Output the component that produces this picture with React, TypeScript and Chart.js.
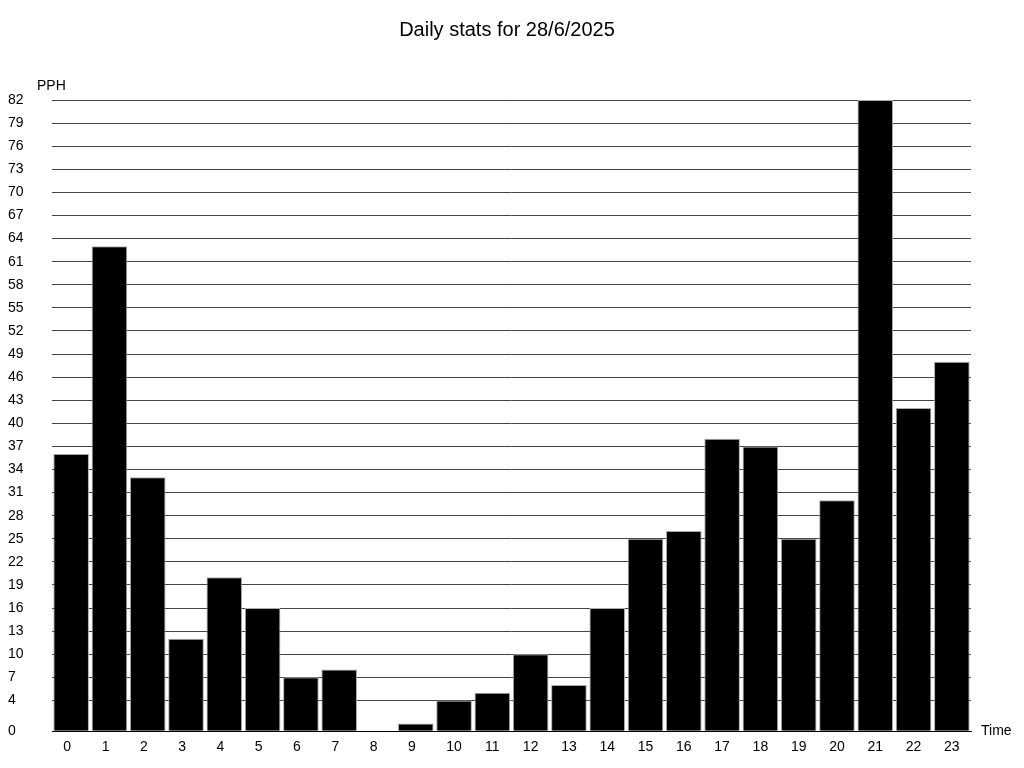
import React, { useEffect, useRef } from "react";
import { Chart, registerables } from "chart.js";

Chart.register(...registerables);

const hours: string[] = [
  "0", "1", "2", "3", "4", "5", "6", "7", "8", "9", "10", "11",
  "12", "13", "14", "15", "16", "17", "18", "19", "20", "21", "22", "23",
];
const pphValues: number[] = [
  36, 63, 33, 12, 20, 16, 7, 8, 0, 1, 4, 5,
  10, 6, 16, 25, 26, 38, 37, 25, 30, 82, 42, 48,
];
const yTickValues: number[] = [
  0, 4, 7, 10, 13, 16, 19, 22, 25, 28, 31, 34, 37, 40, 43, 46, 49, 52,
  55, 58, 61, 64, 67, 70, 73, 76, 79, 82,
];
const chartTitle = "Daily stats for 28/6/2025";
const yAxisLabel = "PPH";
const xAxisLabel = "Time";

const FONT = "'Liberation Sans', Arial, Helvetica, sans-serif";

const textPlugin = {
  id: "textLabels",
  afterDraw(chart: any) {
    const { ctx, chartArea, width } = chart;
    ctx.save();
    ctx.fillStyle = "#000";
    ctx.textBaseline = "middle";
    ctx.font = `20px ${FONT}`;
    ctx.textAlign = "center";
    ctx.fillText(chartTitle, width / 2 - 5, 22);
    ctx.font = `14px ${FONT}`;
    ctx.textAlign = "left";
    ctx.fillText(yAxisLabel, 29, chartArea.top - 14);
    ctx.fillText(xAxisLabel, chartArea.right + 10, chartArea.bottom);
    ctx.restore();
  },
};

export default function App() {
  const canvasRef = useRef<HTMLCanvasElement | null>(null);

  useEffect(() => {
    if (!canvasRef.current) return;
    const chart = new Chart(canvasRef.current, {
      type: "bar",
      data: {
        labels: hours,
        datasets: [
          {
            label: yAxisLabel,
            data: pphValues,
            backgroundColor: "#000",
            borderColor: "#aaa",
            borderWidth: 1,
            barPercentage: 0.93,
            categoryPercentage: 1,
          },
        ],
      },
      options: {
        animation: false,
        responsive: true,
        maintainAspectRatio: false,
        layout: { padding: { left: 0, right: 45, top: 92, bottom: 0 } },
        plugins: {
          legend: { display: false },
          tooltip: { enabled: false },
          title: { display: false },
        },
        scales: {
          x: {
            grid: { display: false, drawTicks: false },
            border: { display: true, color: "#000", width: 1 },
            ticks: {
              color: "#000",
              font: { family: FONT, size: 14 },
              padding: 8,
              maxRotation: 0,
              autoSkip: false,
              callback: (_v: any, i: number) => {
                const s = hours[i];
                return s.length === 1 ? s + "\u2007" : s;
              },
            },
          },
          y: {
            min: 0,
            max: 82,
            afterBuildTicks: (scale: any) => {
              scale.ticks = yTickValues.map((v) => ({ value: v }));
            },
            afterFit: (scale: any) => {
              scale.width = 44;
            },
            grid: {
              color: (ctx: any) => (ctx.tick && ctx.tick.value === 0 ? "rgba(0,0,0,0)" : "#444"),
              lineWidth: 1,
              drawTicks: false,
            },
            border: { display: false },
            ticks: {
              color: "#000",
              font: { family: FONT, size: 14 },
              crossAlign: "far",
              autoSkip: false,
              padding: 0,
            },
          },
        },
      },
      plugins: [textPlugin],
    });
    return () => chart.destroy();
  }, []);

  return (
    <div style={{ width: 1008, height: 756, position: "relative" }}>
      <canvas ref={canvasRef} />
    </div>
  );
}
